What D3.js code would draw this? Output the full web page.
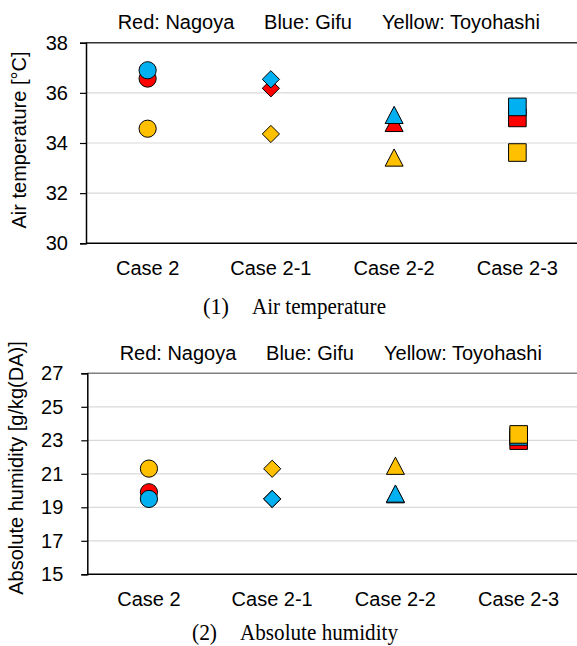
<!DOCTYPE html>
<html>
<head>
<meta charset="utf-8">
<script src="https://cdn.jsdelivr.net/npm/d3@7.9.0/dist/d3.min.js"></script>
<style>
  body { margin: 0; background: #fff; }
  text { font-family: "Liberation Sans", Arial, sans-serif; fill: #000; }
  .caption { font-family: "Liberation Serif", "Times New Roman", serif; }
</style>
</head>
<body>
<svg id="chart" width="577" height="646"></svg>
<script>
// data
const cases = ['Case 2', 'Case 2-1', 'Case 2-2', 'Case 2-3'];
const shapes = ['circle', 'diamond', 'triangle', 'square'];
const cities = ['Red: Nagoya', 'Blue: Gifu', 'Yellow: Toyohashi'];
const cityColors = ['#ff0000', '#00b0f0', '#ffc000'];

const tempNagoya = [36.57, 36.18, 34.8, 35.0];
const tempGifu = [36.9, 36.54, 35.12, 35.44];
const tempToyohashi = [34.57, 34.36, 33.42, 33.62];
const tempTicks = [30, 32, 34, 36, 38];

const humNagoya = [19.9, 19.5, 19.78, 22.98];
const humGifu = [19.5, 19.5, 19.82, 23.23];
const humToyohashi = [21.31, 21.3, 21.48, 23.35];
const humTicks = [15, 17, 19, 21, 23, 25, 27];

const svg = d3.select('#chart');

// marker outline for each shape (size in px)
function shapePath(shape) {
  if (shape === 'circle') {
    return d3.symbol().type(d3.symbolCircle).size(Math.PI * 8.6 * 8.6)();
  }
  if (shape === 'diamond') {
    let h = 8.6;
    return `M0,${-h}L${h},0L0,${h}L${-h},0Z`;
  }
  if (shape === 'triangle') {
    return 'M0,-8.6L9,8.6L-9,8.6Z';
  }
  return 'M-8.8,-8.8H8.8V8.8H-8.8Z';
}

function drawPanel(p) {
  let g = svg.append('g');

  let x = d3.scaleBand().domain(cases).range([p.left, p.left + 493]);
  let y = d3.scaleLinear().domain(d3.extent(p.ticks)).range([p.bottom, p.top]);

  // gridlines
  g.selectAll('line.grid')
    .data(p.ticks.slice(1, -1))
    .join('line')
    .attr('x1', p.left).attr('x2', 577)
    .attr('y1', (d) => y(d)).attr('y2', (d) => y(d))
    .attr('stroke', '#d9d9d9').attr('stroke-width', 1.2);

  // top border
  g.append('line')
    .attr('x1', p.left).attr('x2', 577)
    .attr('y1', p.top).attr('y2', p.top)
    .attr('stroke', p.topColor).attr('stroke-width', 1.5);

  // y axis
  let yAxis = d3.axisLeft(y).tickValues(p.ticks).tickSize(6).tickPadding(p.pad);
  let ya = g.append('g').attr('transform', `translate(${p.left},0)`).call(yAxis);
  ya.select('.domain').attr('stroke', '#000').attr('stroke-width', 1.5);
  ya.selectAll('.tick line').attr('stroke', '#000').attr('stroke-width', 1.2);
  ya.selectAll('.tick text')
    .attr('font-size', 20)
    .attr('font-family', '"Liberation Sans", Arial, sans-serif');

  // bottom axis line
  g.append('line')
    .attr('x1', p.left).attr('x2', 577)
    .attr('y1', p.bottom).attr('y2', p.bottom)
    .attr('stroke', '#000').attr('stroke-width', 1.5);

  // category labels
  g.selectAll('text.cat')
    .data(cases)
    .join('text')
    .attr('x', (d) => x(d) + x.bandwidth() / 2)
    .attr('y', p.catY)
    .attr('text-anchor', 'middle')
    .attr('font-size', 20)
    .text((d) => d);

  // legend text
  g.selectAll('text.leg')
    .data(cities)
    .join('text')
    .attr('x', (d, i) => p.legendX[i])
    .attr('y', p.legendY)
    .attr('text-anchor', 'middle')
    .attr('font-size', 20)
    .text((d) => d);

  // y title
  g.append('text')
    .attr('transform', `translate(${p.titleX},${p.titleY}) rotate(-90)`)
    .attr('text-anchor', 'middle')
    .attr('font-size', 20)
    .text(p.title);

  // caption, condensed serif
  g.append('text').attr('class', 'caption')
    .attr('x', p.capNumX).attr('y', p.capY).attr('font-size', 24)
    .attr('textLength', p.capNumW).attr('lengthAdjust', 'spacingAndGlyphs')
    .text(p.capNum);
  g.append('text').attr('class', 'caption')
    .attr('x', p.capX).attr('y', p.capY).attr('font-size', 24)
    .attr('textLength', p.capW).attr('lengthAdjust', 'spacingAndGlyphs')
    .text(p.caption);

  // markers, Nagoya first so Gifu and Toyohashi sit on top
  p.series.forEach((vals, si) => {
    g.selectAll(null)
      .data(vals)
      .join('path')
      .attr('d', (d, i) => shapePath(shapes[i]))
      .attr('transform', (d, i) => `translate(${x(cases[i]) + x.bandwidth() / 2},${y(d)})`)
      .attr('fill', cityColors[si])
      .attr('stroke', '#000')
      .attr('stroke-width', 1);
  });
}

drawPanel({
  left: 86, top: 42.7, bottom: 243.3,
  ticks: tempTicks, pad: 12, topColor: '#333',
  series: [tempNagoya, tempGifu, tempToyohashi],
  catY: 275, legendX: [176, 308, 461], legendY: 29,
  title: 'Air temperature [°C]', titleX: 26, titleY: 140,
  capY: 314, capNum: '(1)', capNumX: 203, capNumW: 26,
  caption: 'Air temperature', capX: 252, capW: 134
});

drawPanel({
  left: 87.3, top: 373.3, bottom: 574.3,
  ticks: humTicks, pad: 18, topColor: '#808080',
  series: [humNagoya, humGifu, humToyohashi],
  catY: 606, legendX: [178, 310, 463], legendY: 360,
  title: 'Absolute humidity [g/kg(DA)]', titleX: 23, titleY: 468,
  capY: 640, capNum: '(2)', capNumX: 192, capNumW: 25,
  caption: 'Absolute humidity', capX: 240, capW: 158
});
</script>
</body>
</html>
